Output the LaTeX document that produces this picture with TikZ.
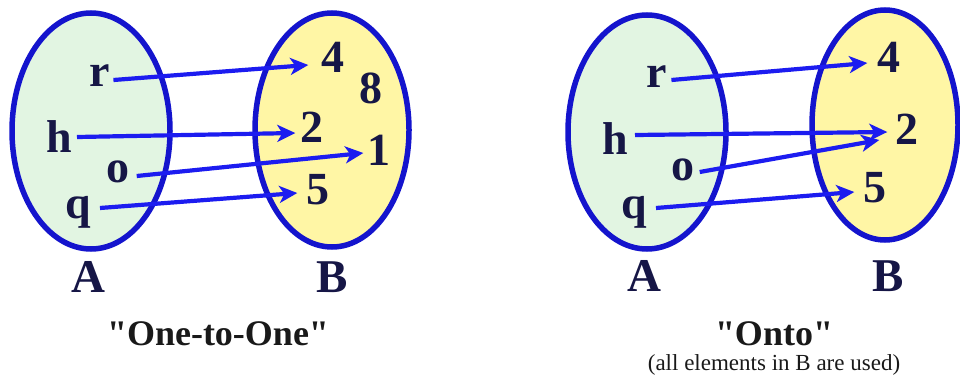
\documentclass[tikz,border=0pt]{standalone}
\usepackage{fontspec}
\setmainfont{Liberation Serif}
\newfontfamily\plainquotes{Liberation Serif}[Ligatures=TeXOff]
\usetikzlibrary{arrows.meta}
\definecolor{rim}{RGB}{20,20,205}
\definecolor{arrowblue}{RGB}{28,28,240}
\definecolor{fillA}{RGB}{226,245,226}
\definecolor{fillB}{RGB}{255,246,165}
\definecolor{ink}{RGB}{22,22,70}
\definecolor{captionink}{RGB}{25,25,25}
\begin{document}
\begin{tikzpicture}[x=1pt,y=-1pt,
  setA/.style={draw=rim,line width=5.5pt,fill=fillA},
  setB/.style={draw=rim,line width=5.5pt,fill=fillB},
  elem/.style={inner sep=0pt,text=ink,font=\fontsize{46}{50}\selectfont\bfseries},
  setname/.style={inner sep=0pt,text=ink,font=\fontsize{47}{50}\selectfont\bfseries},
  arr/.style={draw=arrowblue,line width=4.2pt,-{Stealth[length=18pt,width=17pt,inset=5pt]}},
  title/.style={inner sep=0pt,text=captionink,font=\plainquotes\fontsize{36}{40}\selectfont\bfseries},
  note/.style={inner sep=0pt,text=captionink,font=\fontsize{23}{26}\selectfont}]
\useasboundingbox (0,0) rectangle (960,380);
% ---------- One-to-One ----------
\draw[setA] (91,131) ellipse [x radius=79, y radius=118];
\draw[setB] (332,130) ellipse [x radius=77, y radius=117];
\node[elem] (r1) at (100,76) {r};
\node[elem] (h1) at (59,137) {h};
\node[elem] (o1) at (118,172) {o};
\node[elem] (q1) at (78,212) {q};
\node[elem] (a4) at (333,57) {4};
\node[elem] (a8) at (371,88) {8};
\node[elem] (a2) at (312,127) {2};
\node[elem] (a1) at (379,150) {1};
\node[elem] (a5) at (318,190) {5};
\node[setname] (A1) at (88,277) {A};
\node[setname] (B1) at (332,277) {B};
\node[title] (t1) at (218,334) {"One-to-One"};
\draw[arr] ([xshift=3pt,yshift=-4pt]r1.east) -- ([xshift=-13pt,yshift=-8pt]a4.west);
\draw[arr] ([xshift=5pt]h1.east) -- ([xshift=-5pt,yshift=-6pt]a2.west);
\draw[arr] ([xshift=7pt,yshift=-4pt]o1.east) -- ([xshift=-4pt,yshift=-3pt]a1.west);
\draw[arr] ([xshift=9pt,yshift=4pt]q1.east) -- ([xshift=-9pt,yshift=-3pt]a5.west);
% ---------- Onto ----------
\draw[setA] (647,132) ellipse [x radius=79, y radius=117];
\draw[setB] (885,125) ellipse [x radius=73, y radius=115];
\node[elem] (r2) at (657,77) {r};
\node[elem] (h2) at (615,139) {h};
\node[elem] (o2) at (683,170) {o};
\node[elem] (q2) at (634,212) {q};
\node[elem] (b4) at (889,57) {4};
\node[elem] (b2) at (907,129) {2};
\node[elem] (b5) at (875,188) {5};
\node[setname] (A2) at (644,276) {A};
\node[setname] (B2) at (888,276) {B};
\node[title] (t2) at (774,334) {"Onto"};
\node[note] (n2) at (774,365) {(all elements in B are used)};
\draw[arr] ([xshift=4pt,yshift=-3pt]r2.east) -- ([xshift=-10pt,yshift=-6pt]b4.west);
\draw[arr] ([xshift=7pt,yshift=4pt]h2.east) -- ([xshift=-8pt,yshift=-3pt]b2.west);
\draw[arr] ([xshift=5pt,yshift=-2pt]o2.east) -- ([xshift=-16pt,yshift=-11pt]b2.west);
\draw[arr] ([xshift=9pt,yshift=4pt]q2.east) -- ([xshift=-9pt,yshift=-4pt]b5.west);
\end{tikzpicture}
\end{document}
